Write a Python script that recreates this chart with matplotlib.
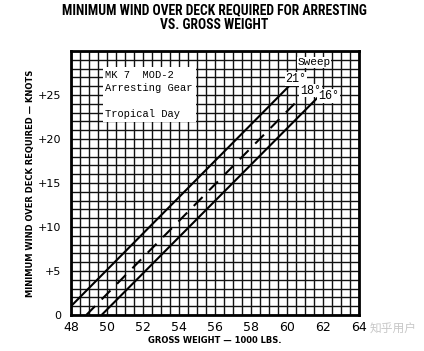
import matplotlib.pyplot as plt
import numpy as np
from matplotlib import font_manager
from matplotlib.patches import Rectangle

# look for a condensed bold face for the title
fonts = font_manager.fontManager.ttflist
names = {f.name for f in fonts}
title_font = dict(family='DejaVu Sans')
for cand in ['Liberation Sans Narrow', 'Roboto Condensed', 'Open Sans Condensed', 'DejaVu Sans Condensed']:
    if cand in names:
        title_font = dict(family=cand)
        break
else:
    if any(f.name == 'DejaVu Sans' and f.stretch == 'condensed' for f in fonts):
        title_font = dict(family='DejaVu Sans', fontstretch='condensed')
mono = 'Liberation Mono'

# chart data (gross weight in 1000 lbs, wind over deck in knots)
weight_21 = [48.0, 60.35]
wind_21 = [1.0, 26.5]
weight_18 = [48.85, 60.7]
wind_18 = [0.0, 24.6]
weight_16 = [49.7, 61.7]
wind_16 = [0.0, 24.7]

x_ticks = [48, 50, 52, 54, 56, 58, 60, 62, 64]
y_ticks = [0, 5, 10, 15, 20, 25]
y_tick_labels = ['0', '+5', '+10', '+15', '+20', '+25']

fig = plt.figure(figsize=(4.24, 3.51), dpi=100)
ax = fig.add_axes([71 / 424, 36 / 351, 288 / 424, 264 / 351])
ax.set_xlim(48, 64)
ax.set_ylim(0, 30)

ax.set_xticks(x_ticks)
ax.set_xticklabels([str(t) for t in x_ticks], fontsize=9)
ax.set_yticks(y_ticks)
ax.set_yticklabels(y_tick_labels, fontsize=8)
ax.set_xticks(np.arange(48, 64.01, 0.5), minor=True)
ax.set_yticks(np.arange(0, 30.01, 1), minor=True)
ax.tick_params(which='both', length=0)
ax.tick_params(axis='x', pad=4)
ax.tick_params(axis='y', pad=7)
ax.grid(which='both', color='#111111', linewidth=1.0)
ax.set_axisbelow(True)
for s in ax.spines.values():
    s.set_linewidth(2)

# lines
ax.plot(weight_21, wind_21, color='black', lw=1.5, solid_capstyle='butt')
ax.plot(weight_18, wind_18, color='black', lw=1.5, dashes=(6, 4.5))
ax.plot(weight_16, wind_16, color='black', lw=1.5, solid_capstyle='butt')

# info box
ax.add_patch(Rectangle((49.75, 21.9), 5.2, 6.3, facecolor='white', edgecolor='none', zorder=2))
ax.text(49.9, 27.8, 'MK 7  MOD-2\nArresting Gear\n\nTropical Day', family=mono,
        fontsize=7.5, va='top', ha='left', linespacing=1.35, zorder=3)

# sweep labels
box = dict(facecolor='white', edgecolor='none', pad=0.5)
ax.text(61.5, 28.7, 'Sweep', family=mono, fontsize=8, ha='center', va='center', bbox=box, zorder=3)
ax.text(60.5, 26.8, '21°', family=mono, fontsize=8.5, ha='center', va='center', bbox=box, zorder=3)
ax.text(61.3, 25.5, '18°', family=mono, fontsize=8.5, ha='center', va='center', bbox=box, zorder=3)
ax.text(62.3, 24.9, '16°', family=mono, fontsize=8.5, ha='center', va='center', bbox=box, zorder=3)

ax.set_xlabel('GROSS WEIGHT — 1000 LBS.', fontsize=6, fontweight='bold', labelpad=2)
ax.set_ylabel('MINIMUM WIND OVER DECK REQUIRED — KNOTS', fontsize=6, fontweight='bold', labelpad=2)

title = fig.text(0.506, 0.992, 'MINIMUM WIND OVER DECK REQUIRED FOR ARRESTING\nVS. GROSS WEIGHT',
                 ha='center', va='top', fontweight='bold', fontsize=11, linespacing=1.15, **title_font)

fig.text(0.927, 0.063, '知乎用户', family=['Noto Sans CJK SC', 'DejaVu Sans'],
         color='#c8c8c8', fontsize=8.5, ha='center', va='center')

# shrink the title so it spans the same width as in the original (~305 px)
fig.canvas.draw()
w = title.get_window_extent().width
title.set_fontsize(title.get_fontsize() * 305 / w)

fig.savefig('out.png', dpi=100)
